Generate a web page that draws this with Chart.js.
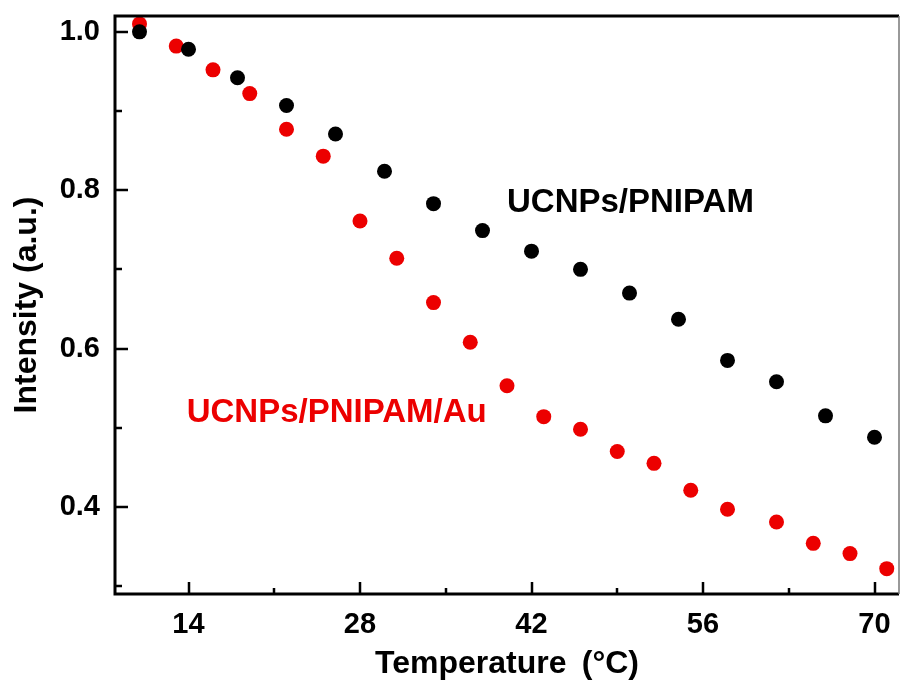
<!DOCTYPE html>
<html>
<head>
<meta charset="utf-8">
<script src="https://cdn.jsdelivr.net/npm/chart.js@4/dist/chart.umd.min.js"></script>
<style>
  html, body { margin: 0; padding: 0; background: #fff; }
  canvas { display: block; }
</style>
</head>
<body>
<canvas id="tempChart" width="901" height="686"></canvas>
<script>
// Temperature (°C) for each series
const tempPnipam = [10, 14, 18, 22, 26, 30, 34, 38, 42, 46, 50, 54, 58, 62, 66, 70];
const intensityPnipam = [1.000, 0.978, 0.942, 0.907, 0.871, 0.824, 0.783, 0.749, 0.723, 0.700, 0.670, 0.637, 0.585, 0.558, 0.515, 0.488];

const tempPnipamAu = [10, 13, 16, 19, 22, 25, 28, 31, 34, 37, 40, 43, 46, 49, 52, 55, 58, 62, 65, 68, 71];
const intensityPnipamAu = [1.010, 0.982, 0.952, 0.922, 0.877, 0.843, 0.761, 0.714, 0.658, 0.608, 0.553, 0.514, 0.498, 0.470, 0.455, 0.421, 0.397, 0.381, 0.354, 0.341, 0.322];

// tick values (majors get a label)
const xTicks = [14, 21, 28, 35, 42, 49, 56, 63, 70];
const xLabelTicks = [14, 28, 42, 56, 70];
const yTicks = [0.3, 0.4, 0.5, 0.6, 0.7, 0.8, 0.9, 1.0];
const yLabelTicks = [0.4, 0.6, 0.8, 1.0];

const seriesNames = ['UCNPs/PNIPAM', 'UCNPs/PNIPAM/Au'];

const BLACK = '#000000';
const RED = 'rgb(236,0,0)';
const FONT = '"Liberation Sans", Arial, sans-serif';

function toPoints(xs, ys) {
    return xs.map((x, i) => ({ x: x, y: ys[i] }));
}

function isLabelled(list, v) {
    return list.some(t => Math.abs(t - v) < 1e-6);
}

// frame, inward ticks and the two series labels
const framePlugin = {
    id: 'framePlugin',
    afterDraw(chart) {
        const ctx = chart.ctx;
        const a = chart.chartArea;
        const xs = chart.scales.x;
        const ys = chart.scales.y;
        ctx.save();

        // box
        ctx.strokeStyle = '#000';
        ctx.lineWidth = 3;
        ctx.beginPath();
        ctx.moveTo(a.right, a.top);
        ctx.lineTo(a.left, a.top);
        ctx.lineTo(a.left, a.bottom);
        ctx.lineTo(a.right, a.bottom);
        ctx.stroke();
        ctx.strokeStyle = '#777';
        ctx.lineWidth = 1.5;
        ctx.beginPath();
        ctx.moveTo(a.right, a.top);
        ctx.lineTo(a.right, a.bottom);
        ctx.stroke();

        // ticks pointing inside
        ctx.strokeStyle = '#000';
        ctx.lineWidth = 2.5;
        ctx.beginPath();
        xTicks.forEach(v => {
            const px = Math.round(xs.getPixelForValue(v));
            const len = isLabelled(xLabelTicks, v) ? 12 : 6;
            ctx.moveTo(px, a.bottom);
            ctx.lineTo(px, a.bottom - len);
        });
        yTicks.forEach(v => {
            const py = Math.round(ys.getPixelForValue(v));
            const len = isLabelled(yLabelTicks, v) ? 13 : 7;
            ctx.moveTo(a.left, py);
            ctx.lineTo(a.left + len, py);
        });
        ctx.stroke();

        // series labels
        ctx.font = 'bold 33px ' + FONT;
        ctx.textBaseline = 'alphabetic';
        ctx.textAlign = 'left';
        ctx.fillStyle = BLACK;
        ctx.fillText(seriesNames[0], xs.getPixelForValue(40.0), ys.getPixelForValue(0.773));
        ctx.fillStyle = RED;
        ctx.fillText(seriesNames[1], xs.getPixelForValue(13.85), ys.getPixelForValue(0.507));
        ctx.restore();
    }
};

const ctx = document.getElementById('tempChart').getContext('2d');
const tempChart = new Chart(ctx, {
    type: 'scatter',
    data: {
        datasets: [
            {
                label: seriesNames[0],
                data: toPoints(tempPnipam, intensityPnipam),
                backgroundColor: BLACK,
                borderColor: BLACK,
                pointRadius: 7.5,
                pointBorderWidth: 0
            },
            {
                label: seriesNames[1],
                data: toPoints(tempPnipamAu, intensityPnipamAu),
                backgroundColor: RED,
                borderColor: RED,
                pointRadius: 7.5,
                pointBorderWidth: 0
            }
        ]
    },
    options: {
        responsive: false,
        animation: false,
        clip: false,
        layout: {
            autoPadding: false,
            padding: { top: 16, right: 2, left: 0, bottom: 0 }
        },
        plugins: {
            legend: { display: false },
            tooltip: { enabled: false }
        },
        scales: {
            x: {
                type: 'linear',
                min: 8,
                max: 72,
                afterBuildTicks: scale => {
                    scale.ticks = xTicks.map(v => ({ value: v }));
                },
                afterFit: scale => {
                    scale.height = 92;
                    scale.paddingLeft = 0;
                    scale.paddingRight = 0;
                },
                grid: { display: false, drawTicks: false },
                border: { display: false },
                ticks: {
                    color: '#000',
                    padding: 14,
                    maxRotation: 0,
                    autoSkip: false,
                    font: { family: FONT, size: 29, weight: 'bold' },
                    callback: v => isLabelled(xLabelTicks, v) ? String(v) : ''
                },
                title: {
                    display: true,
                    text: 'Temperature\u2009 (°C)',
                    color: '#000',
                    font: { family: FONT, size: 32, weight: 'bold' },
                    padding: { top: 0, bottom: 3 }
                }
            },
            y: {
                type: 'linear',
                min: 0.29,
                max: 1.02,
                afterBuildTicks: scale => {
                    scale.ticks = yTicks.map(v => ({ value: v }));
                },
                afterFit: scale => {
                    scale.width = 115;
                    scale.paddingTop = 0;
                    scale.paddingBottom = 0;
                },
                grid: { display: false, drawTicks: false },
                border: { display: false },
                ticks: {
                    color: '#000',
                    padding: 15,
                    autoSkip: false,
                    font: { family: FONT, size: 29, weight: 'bold' },
                    callback: v => isLabelled(yLabelTicks, v) ? v.toFixed(1) : ''
                },
                title: {
                    display: true,
                    text: 'Intensity (a.u.)',
                    color: '#000',
                    font: { family: FONT, size: 32, weight: 'bold' },
                    padding: { top: 8, bottom: 0 }
                }
            }
        }
    },
    plugins: [framePlugin]
});
</script>
</body>
</html>
